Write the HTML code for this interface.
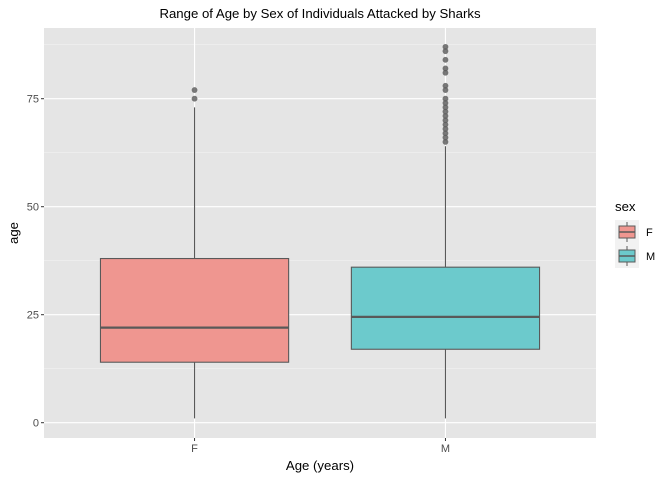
<!DOCTYPE html>
<html><head><meta charset="utf-8"><style>body{margin:0;background:#fff}svg{display:block;font-family:"Liberation Sans",sans-serif}</style></head>
<body>
<svg id="c" width="672" height="480"></svg>
<script>
const categories=["F","M"];
const q1=[14,17];
const medians=[22,24.5];
const q3=[38,36];
const whiskerLow=[1,1];
const whiskerHigh=[73,64];
const outliersF=[75,77];
const outliersM=[65,66,67,68,69,70,71,72,73,74,75,77,78,81,82,84,86,87];
const outliers=[outliersF,outliersM];
const yTicks=[0,25,50,75];
const fills=["#ef9690","#6ccacc"];
const NS="http://www.w3.org/2000/svg";
const svg=document.getElementById('c');
const L=44,R=596,T=28,B=438;
const y=v=>422.7-v*4.32;
const x=i=>L+(i+1-0.4)*(R-L)/2.2;
const bw=0.75*(R-L)/2.2;
function mk(t,a,p){const e=document.createElementNS(NS,t);for(const k in a)e.setAttribute(k,a[k]);(p||svg).appendChild(e);return e;}
let e=mk('rect',{x:L,y:T,width:R-L,height:B-T,fill:'#e5e5e5'});


for(let i=0;i<yTicks.length-1;i++){mk('line',{x1:L,x2:R,y1:y((yTicks[i]+yTicks[i+1])/2),y2:y((yTicks[i]+yTicks[i+1])/2),stroke:'#f2f2f2','stroke-width':0.6});}
mk('line',{x1:L,x2:R,y1:y(87.5),y2:y(87.5),stroke:'#f2f2f2','stroke-width':0.6});
yTicks.forEach(t=>{mk('line',{x1:L,x2:R,y1:y(t),y2:y(t),stroke:'#fff','stroke-width':1.1});
mk('line',{x1:L-3,x2:L,y1:y(t),y2:y(t),stroke:'#333'});
e=mk('text',{x:L-5,y:y(t)+4,'text-anchor':'end','font-size':11,fill:'#4d4d4d'});e.textContent=t;

});
categories.forEach((c,i)=>{const cx=x(i);
mk('line',{x1:cx,x2:cx,y1:T,y2:B,stroke:'#fff','stroke-width':1.1});
mk('line',{x1:cx,x2:cx,y1:B,y2:B+3,stroke:'#333'});
e=mk('text',{x:cx,y:B+14,'text-anchor':'middle','font-size':11,fill:'#4d4d4d'});e.textContent=c;

});
categories.forEach((c,i)=>{const cx=x(i);const g=mk('g',{});


mk('line',{x1:cx,x2:cx,y1:y(whiskerLow[i]),y2:y(q1[i]),stroke:'#595959','stroke-width':1.1},g);
mk('line',{x1:cx,x2:cx,y1:y(q3[i]),y2:y(whiskerHigh[i]),stroke:'#595959','stroke-width':1.1},g);
mk('rect',{x:cx-bw/2,y:y(q3[i]),width:bw,height:y(q1[i])-y(q3[i]),fill:fills[i],stroke:'#595959','stroke-width':1.1},g);
mk('line',{x1:cx-bw/2,x2:cx+bw/2,y1:y(medians[i]),y2:y(medians[i]),stroke:'#595959','stroke-width':2.2},g);
outliers[i].forEach(v=>mk('circle',{cx:cx,cy:y(v),r:2.9,fill:'#595959','fill-opacity':0.8},g));});
function txt(s,a,n){const t=mk('text',a);t.textContent=s;return t;}
txt('Range of Age by Sex of Individuals Attacked by Sharks',{x:(L+R)/2,y:18,'text-anchor':'middle','font-size':13.2,fill:'#000'},'chart-title');
txt('Age (years)',{x:(L+R)/2,y:470,'text-anchor':'middle','font-size':13.2,fill:'#000'},'x-axis-title');
txt('age',{x:18,y:233,'text-anchor':'middle','font-size':13.2,fill:'#000',transform:'rotate(-90 18 233)'},'y-axis-title');
txt('sex',{x:615,y:211,'font-size':13.2,fill:'#000'},'legend-title');
categories.forEach((c,i)=>{const ky=220+i*24;const g=mk('g',{});


mk('rect',{x:615,y:ky,width:24,height:24,fill:'#f2f2f2'},g);
mk('line',{x1:627,x2:627,y1:ky+2,y2:ky+22,stroke:'#595959'},g);
mk('rect',{x:619,y:ky+6,width:16,height:12,fill:fills[i],stroke:'#595959'},g);
mk('line',{x1:619,x2:635,y1:ky+12,y2:ky+12,stroke:'#595959','stroke-width':1.5},g);
const t=mk('text',{x:646,y:ky+16,'font-size':11,fill:'#000'},g);t.textContent=c;});
</script>
</body></html>
